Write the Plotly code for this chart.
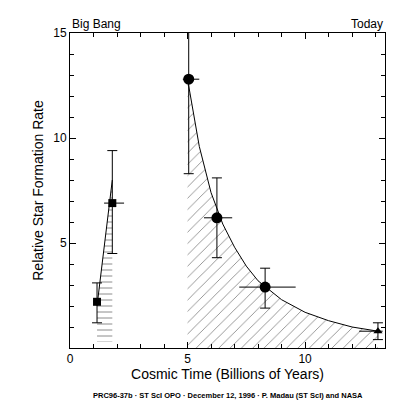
import plotly.graph_objects as go

pts_x = [1.15, 1.8]
pts_y = [2.2, 6.9]
pts_ylo = [1.2, 4.5]
pts_yhi = [3.1, 9.4]
pts_xlo = [1.0, 1.45]
pts_xhi = [1.2, 2.3]

cir_x = [5.05, 6.25, 8.3]
cir_y = [12.8, 6.2, 2.9]
cir_ylo = [8.3, 4.3, 1.9]
cir_yhi = [15.5, 8.1, 3.8]
cir_xlo = [4.8, 5.7, 7.2]
cir_xhi = [5.5, 6.9, 9.6]

tri_x = [13.1]
tri_y = [0.8]
tri_ylo = [0.4]
tri_yhi = [1.2]
tri_xlo = [12.3]
tri_xhi = [13.3]

early_x = [1.15, 1.8, 1.8, 1.15]
early_y = [2.0, 8.0, 0.3, 0.3]

curve_x = [5.0, 5.5, 6.0, 6.5, 7.0, 7.5, 8.0, 9.0, 10.0, 11.0, 12.0, 13.1]
curve_y = [12.8, 9.6, 7.4, 5.9, 4.8, 3.9, 3.2, 2.3, 1.7, 1.3, 1.0, 0.8]

fig = go.Figure()
fig.add_trace(go.Scatter(x=early_x, y=early_y, mode="none", fill="toself",
    fillcolor="rgba(0,0,0,0)",
    fillpattern=dict(shape="-", fgcolor="black", bgcolor="white", size=6, solidity=0.15)))
fig.add_trace(go.Scatter(x=early_x[:2], y=early_y[:2], mode="lines", line=dict(color="black", width=1)))
fig.add_trace(go.Scatter(x=[curve_x[0]] + curve_x + [curve_x[-1]], y=[0] + curve_y + [0],
    mode="none", fill="toself", fillcolor="rgba(0,0,0,0)",
    fillpattern=dict(shape="/", fgcolor="black", bgcolor="white", size=8, solidity=0.1)))
fig.add_trace(go.Scatter(x=curve_x, y=curve_y, mode="lines", line=dict(color="black", width=1)))

def pts(xs, ys, xlo, xhi, ylo, yhi, sym, size):
    fig.add_trace(go.Scatter(
        x=xs, y=ys, mode="markers",
        marker=dict(symbol=sym, size=size, color="black"),
        error_y=dict(type="data", symmetric=False,
                     array=[h - y for h, y in zip(yhi, ys)],
                     arrayminus=[y - l for l, y in zip(ylo, ys)],
                     color="black", thickness=1, width=5),
        error_x=dict(type="data", symmetric=False,
                     array=[h - x for h, x in zip(xhi, xs)],
                     arrayminus=[x - l for l, x in zip(xlo, xs)],
                     color="black", thickness=1, width=0)))

pts(pts_x, pts_y, pts_xlo, pts_xhi, pts_ylo, pts_yhi, "square", 8)
pts(cir_x, cir_y, cir_xlo, cir_xhi, cir_ylo, cir_yhi, "circle", 11)
pts(tri_x, tri_y, tri_xlo, tri_xhi, tri_ylo, tri_yhi, "triangle-up", 8)

axis = dict(showgrid=False, zeroline=False, showline=True, linecolor="black", mirror="ticks",
            ticks="inside", ticklen=6, color="black",
            minor=dict(ticks="inside", ticklen=4, dtick=1, tickcolor="black"))
fig.update_layout(
    width=400, height=400, showlegend=False,
    plot_bgcolor="white", paper_bgcolor="white",
    margin=dict(l=62, r=23, t=25, b=60),
    font=dict(family="Liberation Sans, Arial", size=12, color="black"),
    xaxis=dict(range=[0, 13.4], tickvals=[0, 5, 10], title=dict(text="Cosmic Time (Billions of Years)", standoff=2), **axis),
    yaxis=dict(range=[0, 15], tickvals=[5, 10, 15], title=dict(text="Relative Star Formation Rate", standoff=6), **axis),
    annotations=[
        dict(text="Big Bang", x=0, y=1, xref="paper", yref="paper", xanchor="left", yanchor="bottom", showarrow=False, font=dict(size=12)),
        dict(text="Today", x=1, y=1, xref="paper", yref="paper", xanchor="right", yanchor="bottom", showarrow=False, font=dict(size=12)),
        dict(text="<b>PRC96-37b · ST ScI OPO · December 12, 1996 · P. Madau (ST ScI) and NASA</b>",
             x=0.5, y=-0.17, xref="paper", yref="paper", yanchor="bottom", showarrow=False, font=dict(size=7.5)),
    ],
)
fig.write_html("out.html")
